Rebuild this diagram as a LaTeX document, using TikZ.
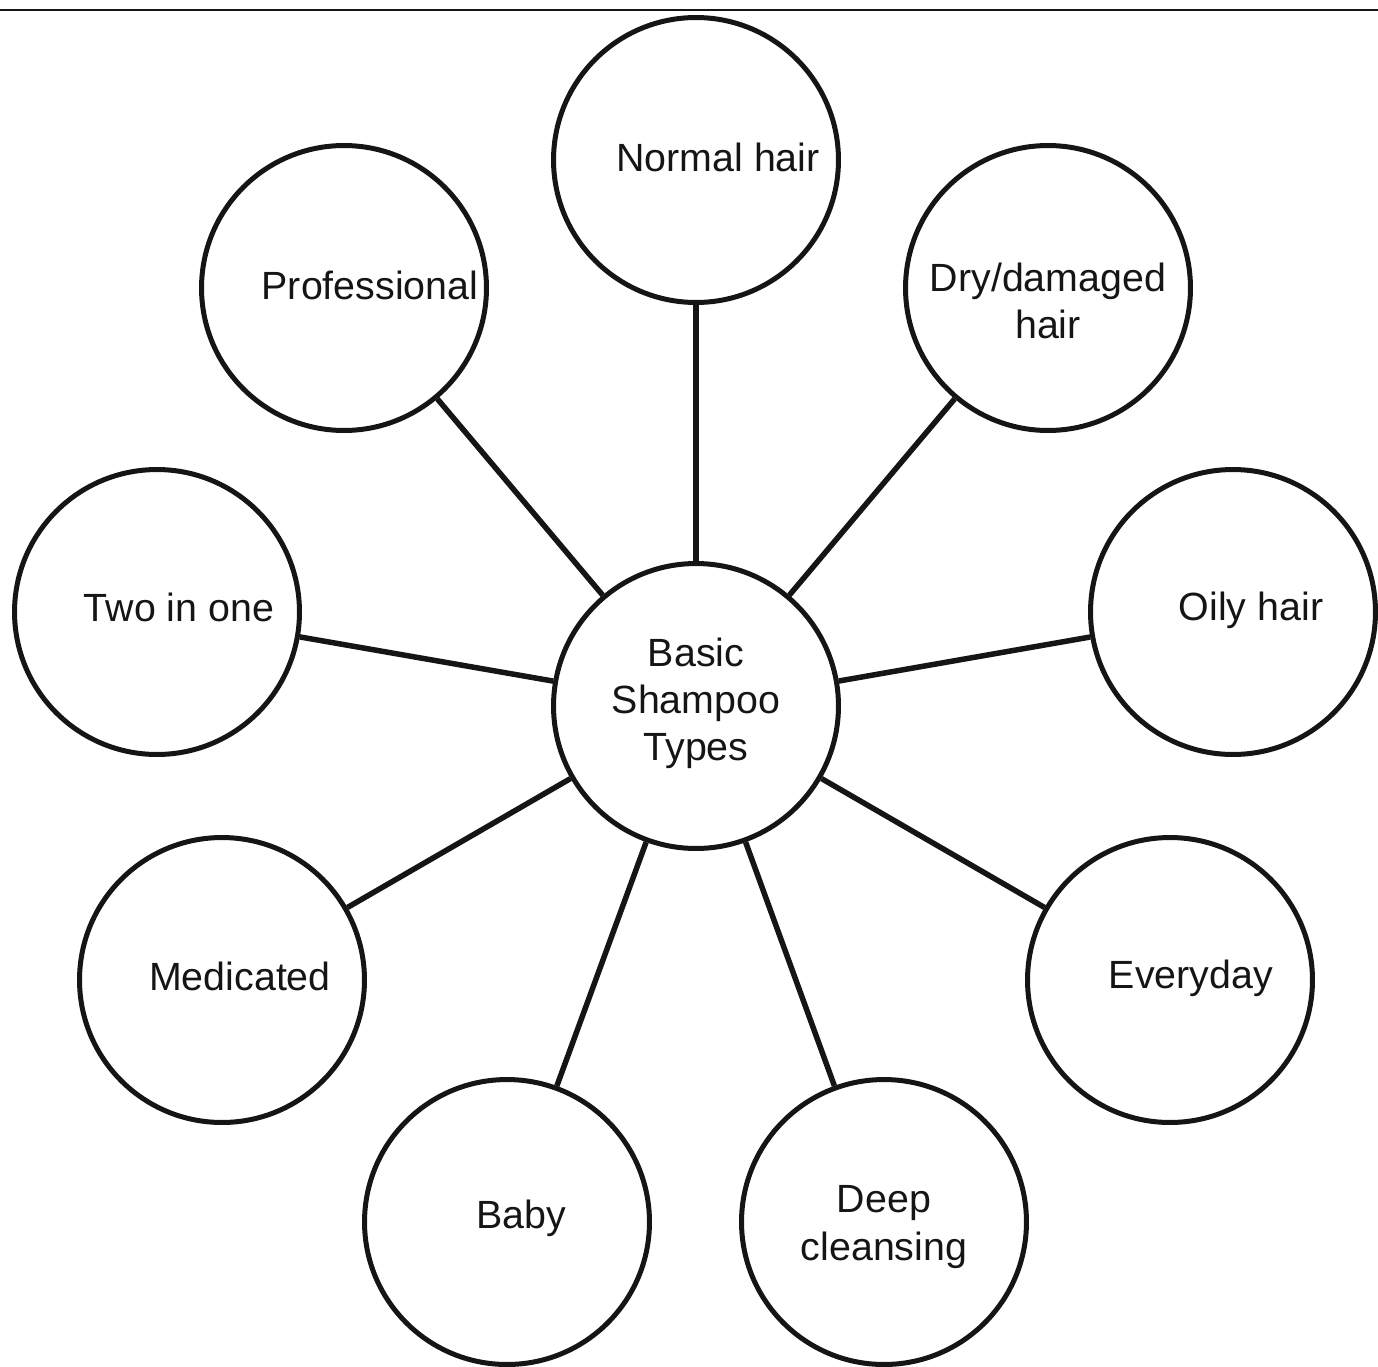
\documentclass[tikz,border=0pt]{standalone}
\usepackage{fontspec}
\setmainfont{Liberation Sans}
\usepackage{tikz}
\definecolor{ink}{HTML}{151515}
\tikzset{
  bubble/.style={circle, draw=ink, line width=0.1cm, minimum size=5.7cm, inner sep=0pt},
  bubbletext/.style={font=\fontsize{22.4}{26.8}\selectfont, text=ink, align=center},
  spoke/.style={draw=ink, line width=0.11cm},
  topbar/.style={draw=ink, line width=0.04cm},
}

\begin{document}
\begin{tikzpicture}[x=0.02cm, y=-0.02cm]
  \useasboundingbox (0,0) rectangle (1378,1366);
  % rule across the top
  \coordinate (barL) at (0,10);
  \coordinate (barR) at (1378,10);
  \draw[topbar] (barL) -- (barR);

  % hub
  \node[bubble, label={[bubbletext, yshift=0.06cm]center:Basic\\Shampoo\\Types}] (hub) at (696,706) {};

  % outer ring
  \node[bubble, label={[bubbletext, xshift=0.44cm, yshift=0.06cm]center:Normal hair}] (normal) at (696,160) {};
  \node[bubble, label={[bubbletext, yshift=-0.26cm]center:Dry/damaged\\hair}] (dry) at (1048,288) {};
  \node[bubble, label={[bubbletext, xshift=0.36cm, yshift=0.04cm]center:Oily hair}] (oily) at (1233,612) {};
  \node[bubble, label={[bubbletext, xshift=0.42cm, yshift=0.04cm]center:Everyday}] (everyday) at (1170,980) {};
  \node[bubble, label={[bubbletext, yshift=-0.1cm]center:Deep\\cleansing}] (deep) at (884,1222) {};
  \node[bubble, label={[bubbletext, xshift=0.28cm, yshift=0.08cm]center:Baby}] (baby) at (507,1222) {};
  \node[bubble, label={[bubbletext, xshift=0.36cm, yshift=0.08cm]center:Medicated}] (medicated) at (222,980) {};
  \node[bubble, label={[bubbletext, xshift=0.44cm, yshift=0.1cm]center:Two in one}] (twoinone) at (157,612) {};
  \node[bubble, label={[bubbletext, xshift=0.52cm, yshift=0.06cm]center:Professional}] (pro) at (344,288) {};

  % spokes
  \foreach \n in {normal,dry,oily,everyday,deep,baby,medicated,twoinone,pro}
    \draw[spoke] (hub) -- (\n);
\end{tikzpicture}
\end{document}
